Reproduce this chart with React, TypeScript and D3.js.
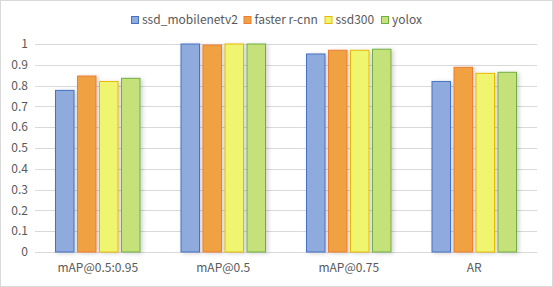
import React from "react";
import * as d3 from "d3";

const categories = ["mAP@0.5:0.95", "mAP@0.5", "mAP@0.75", "AR"];
const seriesNames = ["ssd_mobilenetv2", "faster r-cnn", "ssd300", "yolox"];
const ssdMobilenet = [0.777, 1.0, 0.952, 0.82];
const fasterRcnn = [0.846, 0.995, 0.97, 0.888];
const ssd300 = [0.82, 1.0, 0.97, 0.859];
const yolox = [0.835, 1.0, 0.975, 0.864];
const yTicks = [0, 0.1, 0.2, 0.3, 0.4, 0.5, 0.6, 0.7, 0.8, 0.9, 1];

const seriesValues = [ssdMobilenet, fasterRcnn, ssd300, yolox];
const fills = ["#8faadc", "#f0a143", "#f0f570", "#c5e17a"];
const strokes = ["#4472c4", "#ed7d31", "#e8b800", "#70ad47"];

const W = 553;
const H = 287;
const M = { left: 35, right: 15, top: 44, bottom: 35 };
const FONT = "'Noto Sans CJK SC', 'Noto Sans', sans-serif";

export default function App() {
  const x0 = d3
    .scaleBand<string>()
    .domain(categories)
    .range([M.left, W - M.right - 1])
    .paddingInner(0)
    .paddingOuter(0);
  const y = d3.scaleLinear().domain([0, 1]).range([H - M.bottom, M.top]);
  const bw = x0.bandwidth();
  const barW = 18.5;
  const gap = 3.5;
  const groupW = barW * 4 + gap * 3;

  // legend layout
  const legendX = [131, 243.5, 324.5, 381];

  return (
    <div style={{ position: "absolute", left: 0, top: 0 }}>
      <svg width={W} height={H} style={{ display: "block" }}>
        <defs>
          <filter id="sh" x="-30%" y="-10%" width="180%" height="130%">
            <feDropShadow dx="2" dy="1" stdDeviation="2" floodColor="#000" floodOpacity="0.18" />
          </filter>
        </defs>
        <rect x={0.5} y={0.5} width={W - 1} height={H - 1} fill="#fff" stroke="#d9d9d9" />
        {yTicks.map((t) => (
          <g key={t}>
            <line
              x1={M.left}
              x2={W - M.right - 1}
              y1={Math.round(y(t)) + 0.5}
              y2={Math.round(y(t)) + 0.5}
              stroke="#d9d9d9"
            />
            <text
              x={M.left - 7}
              y={y(t)}
              dy="0.35em"
              textAnchor="end"
              fontFamily={FONT}
              fontSize={12}
              fill="#595959"
            >
              {d3.format("")(t)}
            </text>
          </g>
        ))}
        {categories.map((c, ci) => {
          const cx = (x0(c) as number) + bw / 2;
          return (
            <g key={c}>
              {seriesValues.map((vals, si) => {
                const bx = cx - groupW / 2 + si * (barW + gap);
                return (
                  <rect
                    key={si}
                    x={bx}
                    y={y(vals[ci])}
                    width={barW}
                    height={y(0) - y(vals[ci])}
                    fill={fills[si]}
                    stroke={strokes[si]}
                    strokeWidth={1}
                    filter="url(#sh)"
                  />
                );
              })}
              <text
                x={cx}
                y={H - M.bottom + 20}
                textAnchor="middle"
                fontFamily={FONT}
                fontSize={12}
                fill="#595959"
              >
                {c}
              </text>
            </g>
          );
        })}
        {seriesNames.map((n, i) => (
          <g key={n}>
            <rect
              x={legendX[i] + 0.5}
              y={16.5}
              width={7}
              height={7}
              fill={fills[i]}
              stroke={strokes[i]}
            />
            <text
              x={legendX[i] + 11}
              y={20}
              dy="0.35em"
              fontFamily={FONT}
              fontSize={12}
              fill="#595959"
            >
              {n}
            </text>
          </g>
        ))}
      </svg>
    </div>
  );
}
